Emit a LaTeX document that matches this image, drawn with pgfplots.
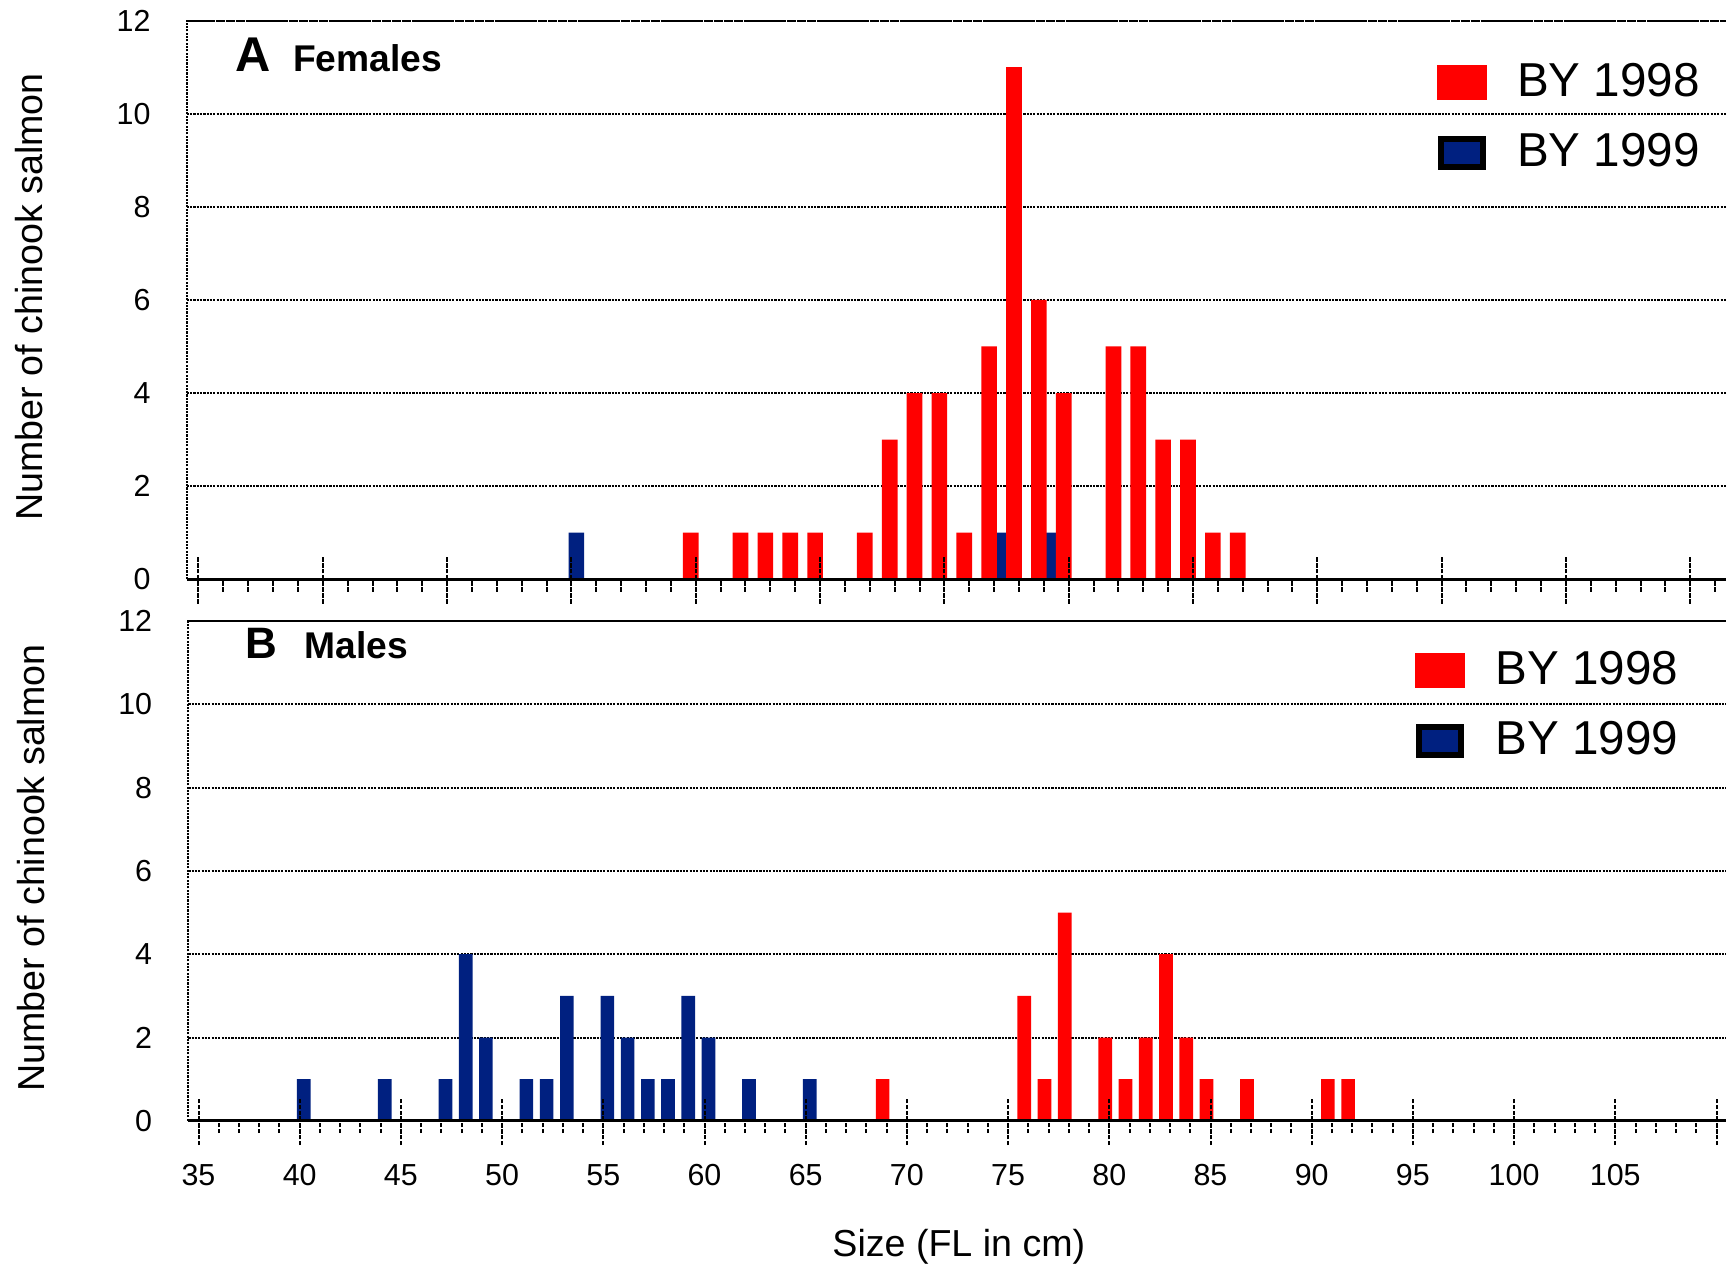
\documentclass[border=0pt]{standalone}
\usepackage{pgfplots}
\pgfplotsset{compat=1.18}
\usepackage{fontspec}
\setmainfont{Liberation Sans}
\definecolor{byred}{RGB}{255,0,0}
\definecolor{byblue}{RGB}{0,32,128}
\newcommand\fs[1]{\fontsize{#1}{#1}\selectfont}
\tikzset{dotline/.style={black, line width=0.5pt, dash pattern=on 0.55pt off 0.28pt},
         tickline/.style={black, line width=0.5pt, dash pattern=on 1.1pt off 0.35pt}}
\pgfplotsset{
  layers/barsunder/.define layer set={axis background,axis grid,pre main,main,axis ticks,axis lines,axis tick labels,axis descriptions,axis foreground}{/pgfplots/layers/standard},
  set layers=barsunder,
  panel/.style={
    scale only axis, anchor=north west,
    ymin=0, ymax=12, ytick={0,2,...,12},
    ymajorgrids, major grid style={dotline},
    axis line style={draw=none},
    xtick pos=left, ytick pos=left,
    tick align=outside, major tick length=6.1pt, minor tick length=3.1pt,
    tick style={tickline},
    every y tick/.append style={draw=none},
    every major y tick/.append style={draw=none},
    /pgf/number format/assume math mode=true,
    tick label style={font=\fs{7.6}},
    yticklabel style={anchor=east, inner sep=0pt, xshift=-2.75pt},
    xticklabel style={anchor=base, inner sep=0pt, yshift=-10pt},
    extra x tick style={tick align=inside, major tick length=5.5pt},
    every axis y label/.style={at={(axis description cs:-0.1016,0.5054)}, rotate=90, anchor=center, font=\fs{9.4}},
    legend style={draw=none, fill=none, inner sep=0pt, outer sep=0pt, anchor=north west,
      font=\fs{11.9}, row sep=7.8pt, column sep=7.6pt, nodes={inner sep=0pt}},
    legend cell align=left,
  },
}
\begin{document}
\begin{tikzpicture}
% ---------------- Panel A: Females ----------------
\begin{axis}[panel, name=top, at={(46.675pt,-5.15pt)},
  width=386.825pt, height=139.675pt,
  xmin=34.526, xmax=96.76,
  xtick={35,40,...,95}, xticklabels={},
  minor xtick={35,36,...,96},
  extra x ticks={35,40,...,95}, extra x tick labels={},
  ylabel={Number of chinook salmon},
  legend style={at={(axis description cs:0.8079,0.9245)}},
]
\addplot[ybar, bar width=0.63, bar shift=1.243pt, fill=byblue, draw=none, forget plot]
  coordinates {(50,1) (67,1) (69,1)};
\addplot[ybar, bar width=0.63, bar shift=-1.243pt, fill=byred, draw=none, forget plot]
  coordinates {(55,1) (57,1) (58,1) (59,1) (60,1) (62,1) (63,3) (64,4) (65,4) (66,1)
               (67,5) (68,11) (69,6) (70,4) (72,5) (73,5) (74,3) (75,3) (76,1) (77,1)};
\addlegendimage{legend image code/.code={\fill[byred] (0pt,-4.25pt) rectangle (12.1pt,4.25pt);}}
\addlegendentry{BY 1998}
\addlegendimage{legend image code/.code={\draw[black, line width=1.5pt, fill=byblue] (0.75pt,-3.5pt) rectangle (11.35pt,3.5pt);}}
\addlegendentry{BY 1999}
\end{axis}

% ---------------- Panel B: Males ----------------
\begin{axis}[panel, name=bot, at={(47.075pt,-155.275pt)},
  width=386.425pt, height=124.925pt,
  xmin=34.496, xmax=110.866,
  xtick={35,40,...,110},
  xticklabels={35,40,45,50,55,60,65,70,75,80,85,90,95,100,105,{}},
  minor xtick={35,36,...,110},
  extra x ticks={35,40,...,110}, extra x tick labels={},
  ylabel={Number of chinook salmon},
  every axis y label/.style={at={(axis description cs:-0.1017,0.5057)}, rotate=90, anchor=center, font=\fs{9.4}},
  xlabel={Size (FL in cm)},
  xlabel style={at={(axis description cs:0.4985,0)}, anchor=center, yshift=-31.5pt, font=\fs{9.4}},
  legend style={at={(axis description cs:0.7938,0.9402)}},
]
\addplot[ybar, bar width=0.675, bar shift=1.012pt, fill=byblue, draw=none, forget plot]
  coordinates {(40,1) (44,1) (47,1) (48,4) (49,2) (51,1) (52,1) (53,3) (55,3) (56,2)
               (57,1) (58,1) (59,3) (60,2) (62,1) (65,1)};
\addplot[ybar, bar width=0.675, bar shift=-1.012pt, fill=byred, draw=none, forget plot]
  coordinates {(69,1) (76,3) (77,1) (78,5) (80,2) (81,1) (82,2) (83,4) (84,2) (85,1)
               (87,1) (91,1) (92,1)};
\addlegendimage{legend image code/.code={\fill[byred] (0pt,-4.25pt) rectangle (12.1pt,4.25pt);}}
\addlegendentry{BY 1998}
\addlegendimage{legend image code/.code={\draw[black, line width=1.5pt, fill=byblue] (0.75pt,-3.5pt) rectangle (11.35pt,3.5pt);}}
\addlegendentry{BY 1999}
\end{axis}

% axis spines
\draw[dotline] (top.south west) -- (top.north west) -- (top.north east);
\draw[black, line width=0.65pt] (top.south west) -- (top.south east);
\draw[dotline] (bot.south west) -- (bot.north west) -- (bot.north east);
\draw[black, line width=0.65pt] (bot.south west) -- (bot.south east);

% panel titles
\node[anchor=base west, inner sep=0pt, font=\bfseries\fs{12.2}] at ([xshift=12.1pt,yshift=-12.8pt]top.north west) {A};
\node[anchor=base west, inner sep=0pt, font=\bfseries\fs{9.3}] at ([xshift=26.4pt,yshift=-12.8pt]top.north west) {Females};
\node[anchor=base west, inner sep=0pt, font=\bfseries\fs{11}] at ([xshift=14.05pt,yshift=-9.3pt]bot.north west) {B};
\node[anchor=base west, inner sep=0pt, font=\bfseries\fs{9.3}] at ([xshift=28.9pt,yshift=-9.3pt]bot.north west) {Males};

\pgfresetboundingbox
\path[use as bounding box] (0,0) rectangle (431.5pt,-317.25pt);
\end{tikzpicture}
\end{document}
